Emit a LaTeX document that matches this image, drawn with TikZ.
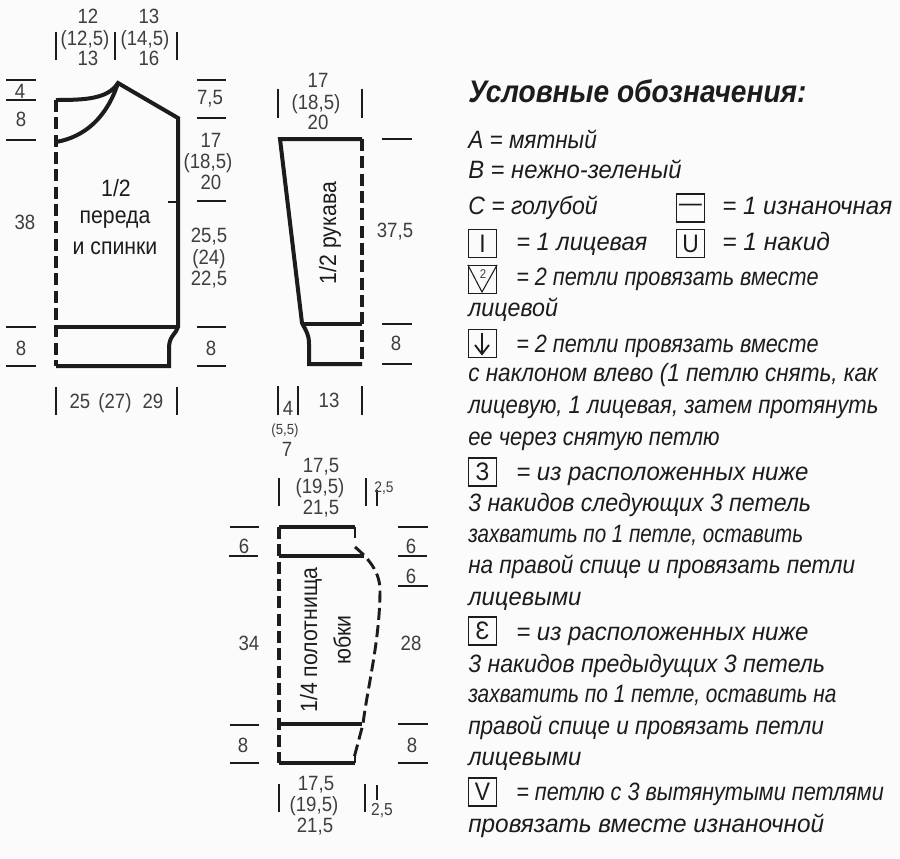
\documentclass[tikz,border=0pt]{standalone}
\usepackage{graphicx}
\usepackage{fontspec}
\setmainfont{Liberation Sans}[FakeStretch=0.9]
\definecolor{ink}{HTML}{1C1C1C}
\definecolor{paper}{HTML}{FBFBFB}
\newcommand{\fitw}[2]{\scalebox{#1}[1]{#2}}
\tikzset{
  dim/.style={draw=ink, line width=0.8pt},
  seam/.style={draw=ink, line width=3pt},
  fold/.style={draw=ink, line width=2.6pt, dash pattern=on 9pt off 4pt},
  lbl/.style={text=ink!85, anchor=base, yshift=-5.5pt, font=\fontsize{15.5}{17}\selectfont, inner sep=0pt},
  piece/.style={text=ink, font=\fontsize{17.7}{20}\selectfont, inner sep=0pt},
  lgd/.style={text=ink, anchor=base west, yshift=-6.5pt, inner sep=0pt, font=\fontsize{18.8}{21}\selectfont\itshape},
  symb/.style={draw=ink, line width=0.9pt, minimum size=21pt, inner sep=0pt, text=ink, font=\fontsize{19}{21}\selectfont}
}
\begin{document}
\begin{tikzpicture}[x=0.75pt,y=-0.75pt]
\fill[paper] (0,0) rectangle (900,858);
\useasboundingbox (0,0) rectangle (900,858);

% front and back
\draw[seam, line join=miter] (56,100) .. controls (85,100) and (108,99) .. (118,83) -- (178,118) -- (178,327) .. controls (176,334) and (169,336) .. (169,348) -- (169,366) -- (56,366);
\draw[seam] (56,142) .. controls (85,137) and (107,117) .. (118,83);
\draw[seam] (56,327) -- (178,327);
\draw[dim, line width=1.4pt] (168,202) -- (178,202);
\draw[fold] (56,100) -- (56,366);

\draw[dim] (6,80) -- (36,80) (6,100) -- (36,100) (6,140) -- (36,140) (6,327) -- (36,327) (6,366) -- (36,366);
\draw[dim] (197,80) -- (226,80) (197,118) -- (226,118) (197,201) -- (226,201) (197,327) -- (226,327) (197,366) -- (226,366);
\draw[dim] (56,32) -- (56,60) (115,32) -- (115,60) (177,32) -- (177,60);
\draw[dim] (56,387) -- (56,415) (177,387) -- (177,415);

\node[lbl] (a1) at (88,16) {12};
\node[lbl] (a2) at (85,38) {(12,5)};
\node[lbl] (a3) at (88,58) {13};
\node[lbl] (b1) at (149,16) {13};
\node[lbl] (b2) at (145,38) {(14,5)};
\node[lbl] (b3) at (149,58) {16};
\node[lbl] (c1) at (20,91) {4};
\node[lbl] (c2) at (21,119) {8};
\node[lbl] (c3) at (25,222) {38};
\node[lbl] (c4) at (21,348) {8};
\node[lbl] (d1) at (210,97) {7,5};
\node[lbl] (d2) at (211,140) {17};
\node[lbl] (d3) at (208,161) {(18,5)};
\node[lbl] (d4) at (211,182) {20};
\node[lbl] (d5) at (209,235) {25,5};
\node[lbl] (d6) at (209,257) {(24)};
\node[lbl] (d7) at (209,278) {22,5};
\node[lbl] (d8) at (211,348) {8};
\node[lbl] (e1) at (80,401) {25};
\node[lbl] (e2) at (115,401) {(27)};
\node[lbl] (e3) at (153,401) {29};
\node[piece] (f1) at (116,188) {1/2};
\node[piece] (f2) at (115,220) {переда};
\node[piece] (f3) at (115,248) {и спинки};

% sleeve
\draw[seam] (362,139) -- (280,139) -- (302,323) .. controls (306,331) and (309,334) .. (309,344) -- (309,364) -- (362,364);
\draw[seam] (302,324) -- (362,324);
\draw[fold] (362,139) -- (362,364);

\draw[dim] (382,139) -- (412,139) (382,324) -- (412,324) (382,364) -- (412,364);
\draw[dim] (278,89) -- (278,118) (362,89) -- (362,118);
\draw[dim] (278,386) -- (278,415) (298,386) -- (298,415) (362,386) -- (362,415);

\node[lbl] (g1) at (318,80) {17};
\node[lbl] (g2) at (316,102) {(18,5)};
\node[lbl] (g3) at (318,122) {20};
\node[piece, rotate=90] (g4) at (330,233) {1/2 рукава};
\node[lbl] (g5) at (395,230) {37,5};
\node[lbl] (g6) at (396,343) {8};
\node[lbl] (g7) at (288,408) {4};
\node[lbl, font=\fontsize{11}{12}\selectfont] (g8) at (285,427) {(5,5)};
\node[lbl] (g9) at (287,449) {7};
\node[lbl] (g10) at (329,400) {13};

% skirt
\draw[seam] (279,527) -- (355,527);
\draw[seam] (279,556) -- (364,556);
\draw[seam] (279,724) -- (362,724);
\draw[seam] (279,763) -- (355,763);
\draw[dim, line width=1.6pt] (355,527) -- (355,538) (355,763) -- (355,756);
\draw[fold] (279,527) -- (279,763);
\draw[fold, line width=2.2pt] (355,547) .. controls (362,553) and (380,568) .. (380,590) .. controls (380,640) and (367,690) .. (363,724) -- (354,758);

\draw[dim] (230,527) -- (259,527) (229,556) -- (258,556) (230,725) -- (259,725) (230,763) -- (259,763);
\draw[dim] (398,527) -- (428,527) (398,556) -- (427,556) (398,586) -- (428,586) (398,724) -- (428,724) (398,763) -- (428,763);
\draw[dim] (279,478) -- (279,506) (366,478) -- (366,506) (377,490) -- (377,506);
\draw[dim] (279,784) -- (279,812) (365,784) -- (365,812) (377,785) -- (377,800);

\node[lbl] (h1) at (321,465) {17,5};
\node[lbl] (h2) at (320,486) {(19,5)};
\node[lbl] (h3) at (321,507) {21,5};
\node[lbl, font=\fontsize{11.5}{13}\selectfont] (h4) at (384,485) {2,5};
\node[lbl] (h5) at (316,783) {17,5};
\node[lbl] (h6) at (314,804) {(19,5)};
\node[lbl] (h7) at (315,825) {21,5};
\node[lbl, font=\fontsize{13}{14}\selectfont] (h8) at (382,808) {2,5};
\node[lbl] (h9) at (244,546) {6};
\node[lbl] (h10) at (411,546) {6};
\node[lbl] (h11) at (411,576) {6};
\node[lbl] (h12) at (249,643) {34};
\node[lbl] (h13) at (411,643) {28};
\node[lbl] (h14) at (243,745) {8};
\node[lbl] (h15) at (412,745) {8};
\node[piece, rotate=90] (h16) at (311,640) {1/4 полотнища};
\node[piece, rotate=90] (h17) at (342,640) {юбки};

% legend
\node[lgd, font=\fontsize{23.4}{25}\selectfont\bfseries\itshape] (title) at (468,94) {Условные обозначения:};
\node[lgd] (l1) at (468,140) {А = мятный};
\node[lgd] (l2) at (468,170) {\fitw{1.054}{В = нежно-зеленый}};
\node[lgd] (l3) at (468,206) {\fitw{1.02}{С = голубой}};
\node[symb] (s1) at (690.5,208) {—};
\node[lgd] (l4) at (722,206) {\fitw{1.07}{= 1 изнаночная}};
\node[symb] (s2) at (482.5,243.5) {I};
\node[lgd] (l5) at (516,242) {\fitw{1.05}{= 1 лицевая}};
\node[symb] (s3) at (690.5,243.5) {U};
\node[lgd] (l6) at (722,242) {\fitw{1.09}{= 1 накид}};
\node[symb] (s4) at (482.5,279.5) {};
\draw[dim] (s4.north west) -- (482,292) -- (s4.north east);
\node[lbl, font=\fontsize{9.5}{10}\selectfont, yshift=2pt] (s4n) at (483,274) {2};
\node[lgd] (l7) at (516,277) {\fitw{0.96}{= 2 петли провязать вместе}};
\node[lgd] (l8) at (468,308) {\fitw{1.03}{лицевой}};
\node[symb] (s5) at (482.5,343.5) {};
\draw[dim, line width=1.4pt] (482,333) -- (482,354) (475,345) -- (482,354) -- (489,345);
\node[lgd] (l9) at (516,344) {\fitw{0.96}{= 2 петли провязать вместе}};
\node[lgd] (l10) at (468,373) {с наклоном влево (1 петлю снять, как};
\node[lgd] (l11) at (468,405) {\fitw{0.98}{лицевую, 1 лицевая, затем протянуть}};
\node[lgd] (l12) at (468,437) {\fitw{0.973}{ее через снятую петлю}};
\node[symb] (s6) at (482.5,472) {З};
\node[lgd] (l13) at (516,472) {\fitw{1.065}{= из расположенных ниже}};
\node[lgd] (l14) at (468,503) {\fitw{1.024}{3 накидов следующих 3 петель}};
\node[lgd] (l15) at (468,534) {\fitw{0.913}{захватить по 1 петле, оставить}};
\node[lgd] (l16) at (468,565) {на правой спице и провязать петли};
\node[lgd] (l17) at (468,597) {\fitw{1.056}{лицевыми}};
\node[symb] (s7) at (482.5,631) {Ɛ};
\node[lgd] (l18) at (516,632) {\fitw{1.065}{= из расположенных ниже}};
\node[lgd] (l19) at (468,664) {\fitw{1.026}{3 накидов предыдущих 3 петель}};
\node[lgd] (l20) at (468,694) {\fitw{0.925}{захватить по 1 петле, оставить на}};
\node[lgd] (l21) at (468,726) {правой спице и провязать петли};
\node[lgd] (l22) at (468,757) {\fitw{1.056}{лицевыми}};
\node[symb] (s8) at (482.5,792) {V};
\node[lgd] (l23) at (516,792) {\fitw{0.96}{= петлю с 3 вытянутыми петлями}};
\node[lgd] (l24) at (468,824) {\fitw{1.08}{провязать вместе изнаночной}};
\end{tikzpicture}
\end{document}
